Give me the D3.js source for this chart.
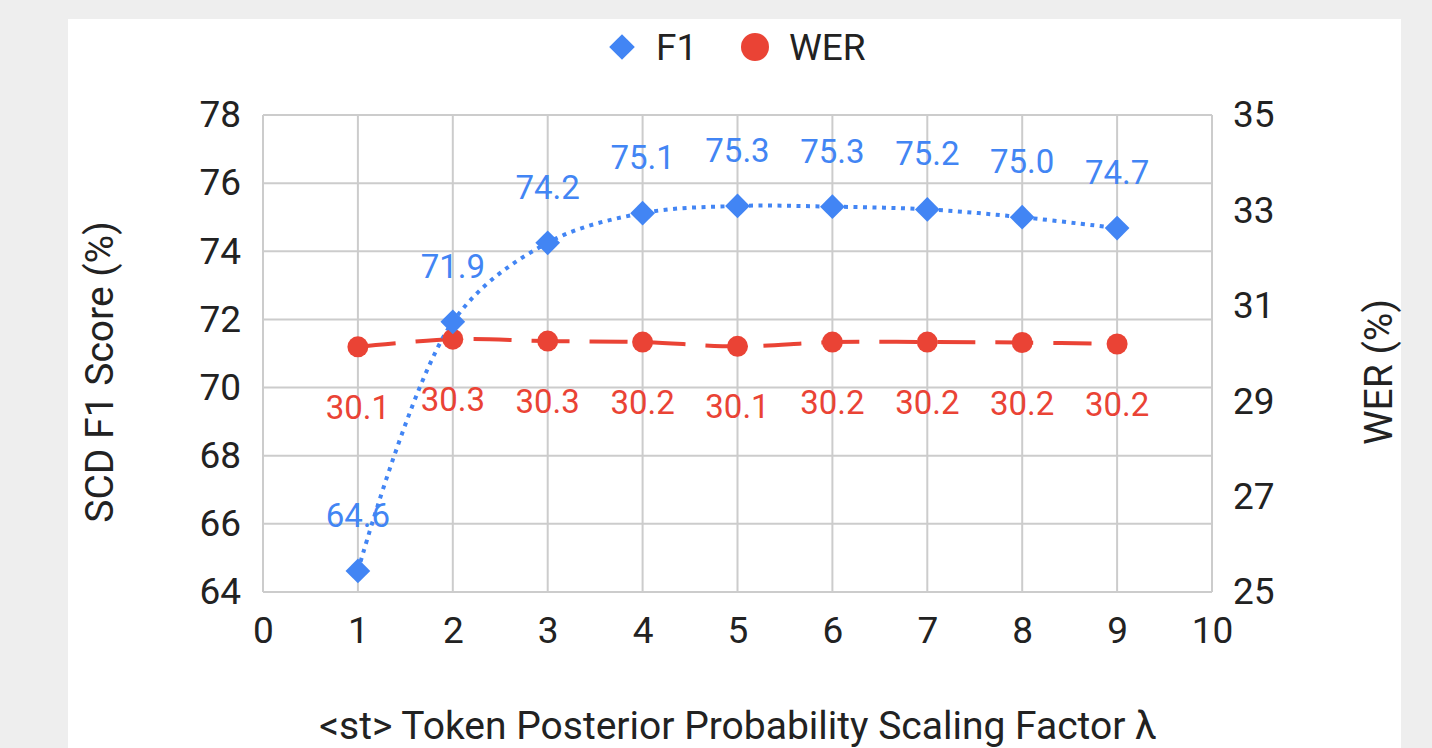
<!DOCTYPE html>
<html><head><meta charset="utf-8">
<script src="https://cdn.jsdelivr.net/npm/d3@7"></script>
<style>
html,body{margin:0;padding:0;background:#eeeeee;}
svg{display:block;font-family:Roboto,"Noto Sans",sans-serif;}
</style></head>
<body>
<svg id="c" width="1432" height="748"></svg>
<script>
const lambdas = [1,2,3,4,5,6,7,8,9];
const f1Values = [64.62,71.93,74.25,75.12,75.33,75.31,75.23,75.0,74.68];
const f1Labels = ["64.6","71.9","74.2","75.1","75.3","75.3","75.2","75.0","74.7"];
const werValues = [30.14,30.3,30.26,30.24,30.15,30.24,30.24,30.23,30.2];
const werLabels = ["30.1","30.3","30.3","30.2","30.1","30.2","30.2","30.2","30.2"];
const xTicks = [0,1,2,3,4,5,6,7,8,9,10];
const leftTicks = [64,66,68,70,72,74,76,78];
const rightTicks = [25,27,29,31,33,35];

const blue = "#4285f4", red = "#ea4335", ink = "#222222", grid = "#cccccc";
const svg = d3.select("#c");
svg.append("rect").attr("x",68).attr("y",19).attr("width",1333).attr("height",740).attr("fill","#fff");

const x = d3.scaleLinear().domain([0,10]).range([263,1212]);
const yL = d3.scaleLinear().domain([64,78]).range([592,115]);
const yR = d3.scaleLinear().domain([25,35]).range([592,115]);

// gridlines
const g = svg.append("g");
g.selectAll("line.v").data(xTicks).join("line")
  .attr("x1",d=>x(d)).attr("x2",d=>x(d)).attr("y1",yL(78)).attr("y2",yL(64))
  .attr("stroke",grid).attr("stroke-width",2);
g.selectAll("line.h").data(leftTicks).join("line")
  .attr("y1",d=>yL(d)).attr("y2",d=>yL(d)).attr("x1",x(0)).attr("x2",x(10))
  .attr("stroke",grid).attr("stroke-width",2);

// axes
function styleAxis(sel, size){
  sel.select(".domain").remove();
  sel.selectAll(".tick line").remove();
  sel.selectAll("text").attr("fill",ink).style("font-size",size+"px").style("font-family","Roboto");
}
svg.append("g").attr("transform",`translate(${x(0)},0)`)
  .call(d3.axisLeft(yL).tickValues(leftTicks).tickSize(0).tickPadding(22))
  .call(s=>styleAxis(s,37));
svg.append("g").attr("transform",`translate(${x(10)},0)`)
  .call(d3.axisRight(yR).tickValues(rightTicks).tickSize(0).tickPadding(21))
  .call(s=>styleAxis(s,37));
svg.append("g").attr("transform",`translate(0,${yL(64)})`)
  .call(d3.axisBottom(x).tickValues(xTicks).tickSize(0).tickPadding(25))
  .call(s=>styleAxis(s,37));

// lines
const f1Line = d3.line().x((d,i)=>x(lambdas[i])).y(d=>yL(d)).curve(d3.curveCatmullRom.alpha(0.5));
const werLine = d3.line().x((d,i)=>x(lambdas[i])).y(d=>yR(d)).curve(d3.curveCatmullRom.alpha(0.5));
svg.append("path").datum(werValues).attr("d",werLine).attr("fill","none")
  .attr("stroke",red).attr("stroke-width",4).attr("stroke-dasharray","38,20");
svg.append("path").datum(f1Values).attr("d",f1Line).attr("fill","none")
  .attr("stroke",blue).attr("stroke-width",4).attr("stroke-dasharray","4,5.5");

// markers
svg.selectAll("circle.w").data(werValues).join("circle")
  .attr("cx",(d,i)=>x(lambdas[i])).attr("cy",d=>yR(d)).attr("r",10.5).attr("fill",red);
const dia = d3.symbol().type(d3.symbolDiamond2).size(390);
svg.selectAll("path.f").data(f1Values).join("path")
  .attr("d",dia).attr("transform",(d,i)=>`translate(${x(lambdas[i])},${yL(d)})`).attr("fill",blue);

// labels
svg.selectAll("text.fl").data(f1Values).join("text")
  .attr("x",(d,i)=>x(lambdas[i])).attr("y",d=>yL(d)-44)
  .attr("text-anchor","middle").attr("fill",blue).style("font-size","33px")
  .text((d,i)=>f1Labels[i]);
svg.selectAll("text.wl").data(werValues).join("text")
  .attr("x",(d,i)=>x(lambdas[i])).attr("y",d=>yR(d)+72)
  .attr("text-anchor","middle").attr("fill",red).style("font-size","33px")
  .text((d,i)=>werLabels[i]);

// legend
svg.append("path").attr("d",d3.symbol().type(d3.symbolDiamond2).size(420)).attr("transform","translate(622,47)").attr("fill",blue);
svg.append("text").attr("x",656).attr("y",60).attr("fill",ink).style("font-size","37px").text("F1");
svg.append("circle").attr("cx",755).attr("cy",47).attr("r",14).attr("fill",red);
svg.append("text").attr("x",789).attr("y",60).attr("fill",ink).style("font-size","37px").text("WER");

// axis titles
svg.append("text").attr("transform","translate(113,372) rotate(-90)").attr("text-anchor","middle")
  .attr("fill",ink).style("font-size","39px").text("SCD F1 Score (%)");
svg.append("text").attr("transform","translate(1392,372) rotate(-90)").attr("text-anchor","middle")
  .attr("fill",ink).style("font-size","39px").text("WER (%)");
svg.append("text").attr("x",738).attr("y",739).attr("text-anchor","middle")
  .attr("fill",ink).style("font-size","39px").text("<st> Token Posterior Probability Scaling Factor λ");
</script>
</body></html>
